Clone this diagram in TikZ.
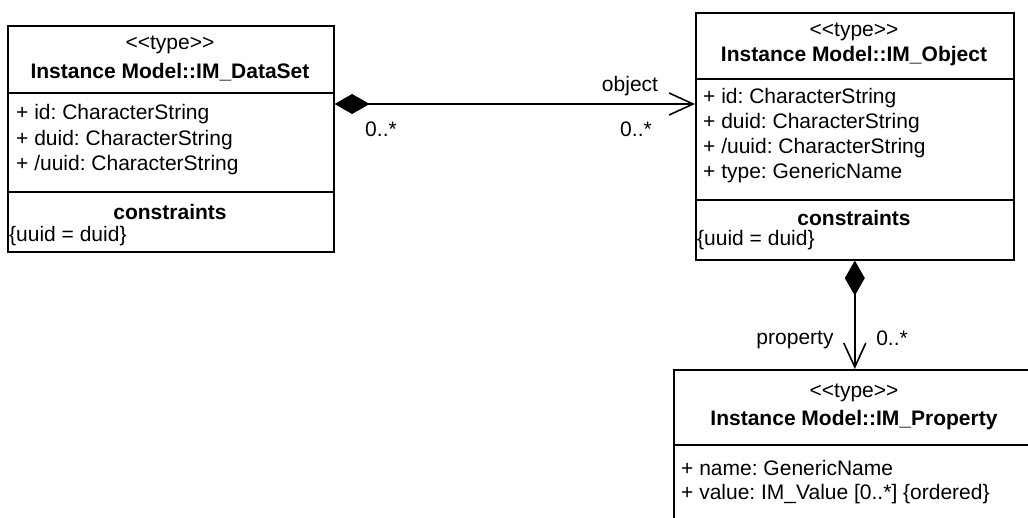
\documentclass[tikz,border=0pt]{standalone}
\usepackage{fontspec}
\setmainfont{Liberation Sans}
\usetikzlibrary{arrows.meta,calc}
\newcommand\stereotype{<\kern0pt<type>\kern0pt>}
\frenchspacing
\begin{document}
\begin{tikzpicture}[x=1pt,y=-1pt,
  box/.style={draw,line width=1.6pt,inner sep=0pt,anchor=north west},
  rule/.style={line width=1.6pt},
  txt/.style={inner sep=0pt,font=\fontsize{21}{25}\selectfont\frenchspacing},
  attr/.style={txt,anchor=west},
  ttl/.style={txt,font=\fontsize{21}{25}\selectfont\bfseries},
  conn/.style={line width=1.6pt},
  comp/.style={conn,{Diamond[length=35pt,width=20pt]}-{Straight Barb[length=24pt,width=22pt,line width=1.6pt]}}
]
\useasboundingbox (0,0) rectangle (1028,518);
\clip (0,0) rectangle (1028,518);

% IM_DataSet
\node[box,minimum width=326pt,minimum height=226pt] (ds) at (7,25) {};
\draw[rule] ($(ds.north west)+(0,68)$) -- ($(ds.north east)+(0,68)$);
\draw[rule] ($(ds.north west)+(0,167)$) -- ($(ds.north east)+(0,167)$);
\node[txt] (dsst) at (170,45) {\stereotype};
\node[ttl] (dsnm) at (170,72) {Instance Model::IM\_DataSet};
\node[attr] (dsa1) at (16,114) {+ id: CharacterString};
\node[attr] (dsa2) at (16,140) {+ duid: CharacterString};
\node[attr] (dsa3) at (16,165) {+ /uuid: CharacterString};
\node[ttl] (dsc) at (170,212) {constraints};
\node[attr] (dsc1) at (9,236) {\{uuid = duid\}};

% IM_Object
\node[box,minimum width=318pt,minimum height=247pt] (ob) at (695,12) {};
\draw[rule] ($(ob.north west)+(0,67)$) -- ($(ob.north east)+(0,67)$);
\draw[rule] ($(ob.north west)+(0,188)$) -- ($(ob.north east)+(0,188)$);
\node[txt] (obst) at (854,32) {\stereotype};
\node[ttl] (obnm) at (854,56) {Instance Model::IM\_Object};
\node[attr] (oba1) at (703,98) {+ id: CharacterString};
\node[attr] (oba2) at (703,123) {+ duid: CharacterString};
\node[attr] (oba3) at (703,148) {+ /uuid: CharacterString};
\node[attr] (oba4) at (703,173) {+ type: GenericName};
\node[ttl] (obc) at (854,218) {constraints};
\node[attr] (obc1) at (697,240) {\{uuid = duid\}};

% IM_Property
\node[box,minimum width=362pt,minimum height=220pt] (pr) at (673,369) {};
\draw[rule] ($(pr.north west)+(0,76)$) -- ($(pr.north east)+(0,76)$);
\node[txt] (prst) at (854,393) {\stereotype};
\node[ttl] (prnm) at (854,420) {Instance Model::IM\_Property};
\node[attr] (pra1) at (681,468) {+ name: GenericName};
\node[attr] (pra2) at (681,494) {+ value: IM\_Value [0..*] \{ordered\}};

% connectors
\draw[comp] ($(ds.north east)+(0,79)$) -- ($(ob.north west)+(0,92)$);
\node[txt] (lobj) at (630,86) {object};
\node[txt] (m1) at (381,129) {0..*};
\node[txt] (m2) at (636,129) {0..*};

\draw[comp] (ob.south) -- (pr.north);
\node[txt] (lprop) at (795,340) {property};
\node[txt] (m3) at (892,338) {0..*};
\end{tikzpicture}
\end{document}
